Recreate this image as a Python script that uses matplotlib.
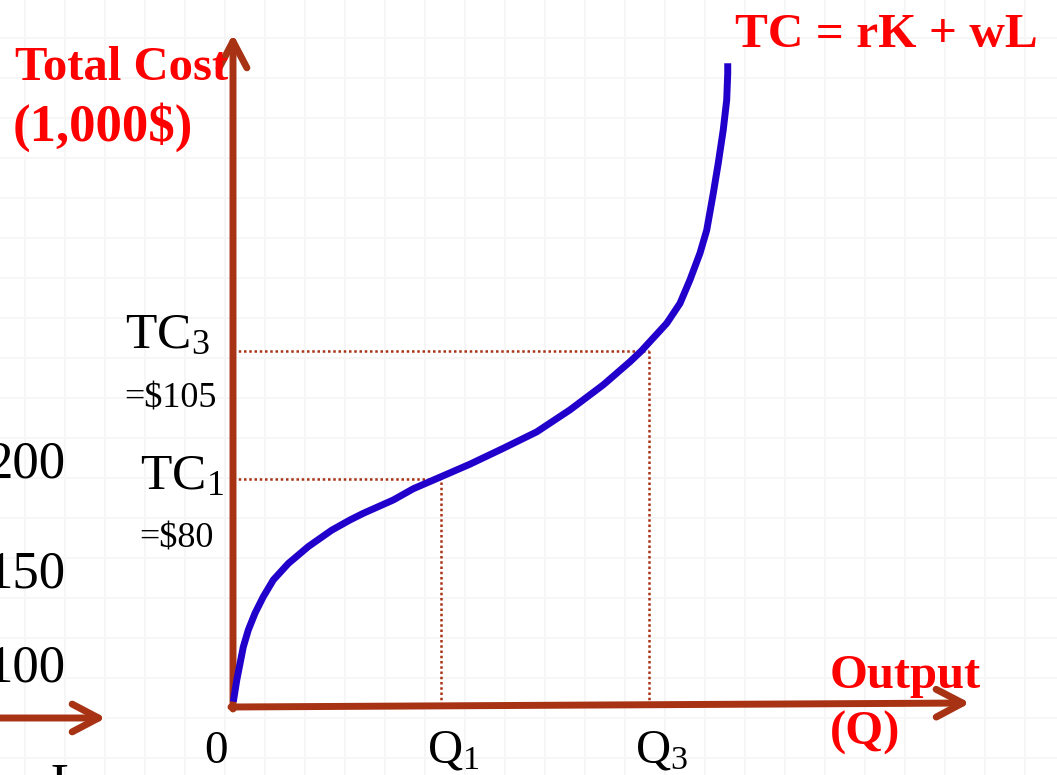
import numpy as np
import matplotlib
matplotlib.use("Agg")
import matplotlib.pyplot as plt

plt.rcParams['font.family'] = ['Liberation Serif', 'DejaVu Serif']
plt.rcParams['mathtext.fontset'] = 'custom'
plt.rcParams['mathtext.rm'] = 'Liberation Serif'
plt.rcParams['mathtext.it'] = 'Liberation Serif:italic'

# total cost curve, output Q (arbitrary units) vs cost in $1,000
q = [0.003, 0.036, 0.099, 0.147, 0.212, 0.291, 0.388, 0.532, 0.724, 0.949,
     1.125, 1.253, 1.541, 1.734, 1.95, 2.279, 2.599, 2.920, 3.240, 3.561,
     3.817, 3.926, 4.170, 4.298, 4.394, 4.490, 4.555, 4.618, 4.666, 4.714,
     4.747, 4.757, 4.757]
tc = [36.5, 40.7, 47.2, 50.5, 53.8, 57.0, 60.3, 63.5, 66.8, 70.0,
      72.0, 73.3, 75.9, 78.1, 80.0, 82.9, 86.0, 89.2, 93.5, 98.4,
      102.9, 105.0, 110.4, 114.3, 118.9, 124.1, 128.6, 135.8, 141.7, 148.2,
      154.0, 159.2, 161.2]

q_marks = [2.0, 4.0]
tc_marks = [80, 105]
q_labels = ['Q$_1$', 'Q$_3$']
tc_labels = ['TC$_1$', 'TC$_3$']
tc_values = ['=$80', '=$105']

# neighbouring panel on the slide (only partly visible)
side_ticks = ['200', '150', '100']

W, H = 1057, 775
fig = plt.figure(figsize=(W / 100, H / 100), dpi=100)
ax = fig.add_axes([0, 0, 1, 1])

# 104 px per Q unit, 5.12 px per $; TC1 sits at px (441, 479)
x0, y0 = 233, 479
sx, sy = 104.0, 5.12
ax.set_xlim(-x0 / sx, (W - x0) / sx)
ax.set_ylim(80 - (H - y0) / sy, 80 + y0 / sy)


def px(x, y):
    # pixel position -> data coords
    return (x - x0) / sx, 80 + (y0 - y) / sy


# faint slide grid
gx = [px(x, 0)[0] for x in range(25, W, 40)]
gy = [px(0, y)[1] for y in range(38, H, 40)]
ax.set_xticks(gx)
ax.set_yticks(gy)
ax.tick_params(length=0, labelbottom=False, labelleft=False)
ax.grid(True, color='#f6f6f6', lw=1.3)
ax.set_axisbelow(True)
for s in ax.spines.values():
    s.set_visible(False)

axis_col = '#a83214'
red = '#ff0000'
blue = '#2200cc'

base = px(0, 705)[1]
arrow_kw = dict(arrowstyle='->,head_length=1.9,head_width=1.0', color=axis_col,
                lw=5, mutation_scale=10, capstyle='round', joinstyle='round',
                shrinkA=0, shrinkB=0)
# cost axis
ax.annotate('', xy=px(233, 34), xytext=px(233, 709), arrowprops=arrow_kw)
# output axis
ax.annotate('', xy=px(970, 703), xytext=px(231, 707), arrowprops=arrow_kw)
# axis of the neighbouring panel
ax.annotate('', xy=px(106, 718), xytext=px(-10, 718), arrowprops=arrow_kw)

# dotted guides
for qm, tm in zip(q_marks, tc_marks):
    ax.plot([0, qm], [tm, tm], ls=(0, (1, 1.1)), color=axis_col, lw=1.8)
    ax.plot([qm, qm], [base, tm], ls=(0, (1, 1.1)), color=axis_col, lw=1.8)

ax.plot(q, tc, color=blue, lw=5, solid_capstyle='butt',
        solid_joinstyle='round', zorder=5)

# labels
bold = dict(color=red, fontweight='bold', va='baseline', ha='left')
ax.text(*px(15, 80), 'Total Cost', fontsize=35, **bold)
ax.text(*px(13, 141), '(1,000$)', fontsize=38, **bold)
ax.text(*px(735, 47), 'TC = rK + wL', fontsize=35.5, **bold)
ax.text(*px(830, 688), 'Output', fontsize=35, **bold)
ax.text(*px(830, 745), '(Q)', fontsize=35, **bold)

# (left edge, label baseline, value baseline) in px
tc_pos = [(140, 489, 548), (125, 348, 408)]
for lab, val, (left, yl, yv) in zip(tc_labels, tc_values, tc_pos):
    ax.text(*px(left, yl), lab, ha='left', va='baseline', fontsize=37)
    ax.text(*px(left - 1, yv), val, ha='left', va='baseline', fontsize=26)

for qm, lab in zip(q_marks, q_labels):
    ax.text(qm + 0.12, px(0, 762)[1], lab, ha='center', va='baseline', fontsize=35)
ax.text(*px(216, 763), '0', ha='center', va='baseline', fontsize=34)

for lab, y in zip(side_ticks, [477, 588, 682]):
    ax.text(*px(66, y), lab, ha='right', va='baseline', fontsize=38)
ax.text(*px(67, 800), 'L', ha='center', va='baseline', fontsize=38)

fig.savefig('out.png', dpi=100)
